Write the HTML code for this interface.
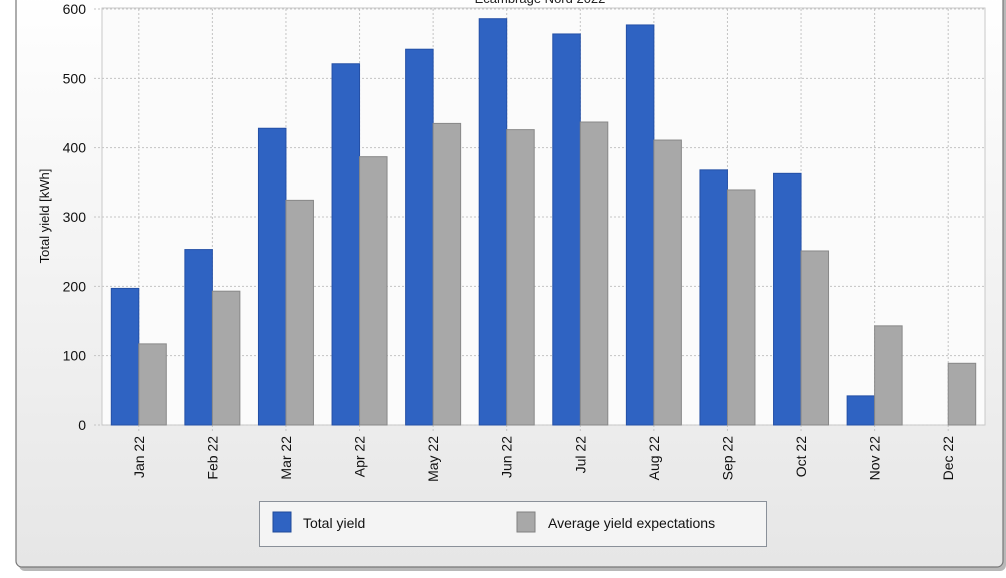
<!DOCTYPE html>
<html><head><meta charset="utf-8"><style>
body{margin:0;width:1006px;height:573px;overflow:hidden;background:#fff;font-family:"Liberation Sans",sans-serif}
</style></head><body>
<svg width="1006" height="573" xmlns="http://www.w3.org/2000/svg">
<defs><linearGradient id="bg" x1="0" y1="0" x2="0" y2="1"><stop offset="0" stop-color="#ffffff"/><stop offset="1" stop-color="#e6e6e6"/></linearGradient></defs>
<rect x="19" y="-10" width="987" height="581" rx="6" fill="#b8b8b8"/>
<rect x="16" y="-10" width="987" height="577" rx="6" fill="url(#bg)" stroke="#777" stroke-width="1.2"/>
<text x="540" y="3" font-size="13" text-anchor="middle" fill="#222">Ecambrage Nord 2022</text>
<rect x="102" y="8" width="883" height="417" fill="#fbfbfb" stroke="#c8c8c8"/>
<g id="grid"></g>
<g id="bars"></g>
<g id="axes"></g>
<text transform="translate(49,216) rotate(-90)" font-size="13" text-anchor="middle" fill="#111">Total yield [kWh]</text>
<g>
<rect x="259.5" y="501.5" width="507" height="45" fill="#f4f4f4" stroke="#8a9099"/>
<rect x="273" y="512" width="18" height="20" fill="#2f63c2" stroke="#1f4a99"/>
<text x="303" y="528" font-size="14" fill="#111">Total yield</text>
<rect x="517" y="512" width="18" height="20" fill="#a8a8a8" stroke="#808080"/>
<text x="548" y="528" font-size="14" fill="#111">Average yield expectations</text>
</g>
</svg>
<script>
const categories=["Jan 22","Feb 22","Mar 22","Apr 22","May 22","Jun 22","Jul 22","Aug 22","Sep 22","Oct 22","Nov 22","Dec 22"];
const totalYield=[197,253,428,521,542,586,564,577,368,363,42,0];
const avgYield=[117,193,324,387,435,426,437,411,339,251,143,89];
const yTicks=[0,100,200,300,400,500,600];
const NS="http://www.w3.org/2000/svg";
const x0=102,x1=985,yTop=9,yBot=425,yMax=600;
const step=(x1-x0)/categories.length;
const y=v=>yBot-(v/yMax)*(yBot-yTop);
function mk(t,a,p){const e=document.createElementNS(NS,t);for(const k in a)e.setAttribute(k,a[k]);p.appendChild(e);return e;}
const grid=document.getElementById('grid'),bars=document.getElementById('bars'),axes=document.getElementById('axes');
yTicks.forEach(v=>{
  const l=mk('line',{x1:x0-8,x2:x1,y1:y(v),y2:y(v),stroke:'#c4c4c4','stroke-dasharray':'2,2'},grid);
  
  
  const t=mk('text',{x:x0-16,y:y(v)+5,'font-size':14,'text-anchor':'end',fill:'#111'},axes);
  t.textContent=v;
  
  
});
categories.forEach((c,i)=>{
  const cx=x0+step*(i+0.5);
  const g=mk('line',{x1:cx,x2:cx,y1:yTop,y2:yBot+8,stroke:'#c4c4c4','stroke-dasharray':'2,2'},grid);
  
  
  const bw=27.5;
  if(totalYield[i]>0){
  const b=mk('rect',{x:cx-bw,y:y(totalYield[i]),width:bw,height:yBot-y(totalYield[i]),fill:'#2f63c2',stroke:'#2450a6'},bars);
  
  }
  const a=mk('rect',{x:cx,y:y(avgYield[i]),width:bw,height:yBot-y(avgYield[i]),fill:'#a8a8a8',stroke:'#888'},bars);
  
  
  const t=mk('text',{transform:`translate(${cx+5},${436}) rotate(-90)`,'font-size':14,'text-anchor':'end',fill:'#111'},axes);
  t.textContent=c;
  
  
});
</script>
</body></html>
